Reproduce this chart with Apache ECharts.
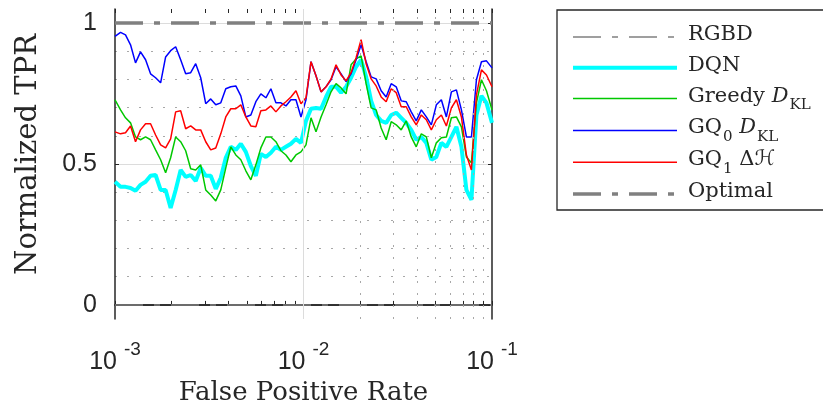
<!DOCTYPE html>
<html>
<head>
<meta charset="utf-8">
<script src="https://cdn.jsdelivr.net/npm/echarts@6/dist/echarts.min.js"></script>
<style>
  html, body { margin: 0; padding: 0; background: #fff; }
  #chart { width: 823px; height: 412px; }
</style>
</head>
<body>
<div id="chart"></div>
<script>
// x positions (false positive rate), shared by all four curves
const fpr = [
  0.001, 0.001070, 0.001137, 0.001209, 0.001285, 0.001366, 0.001453, 0.001544, 0.001642, 0.001746,
  0.001856, 0.001973, 0.002098, 0.002230, 0.002371, 0.002521, 0.002680, 0.002849, 0.003029, 0.003220,
  0.003424, 0.003640, 0.003870, 0.004114, 0.004374, 0.004650, 0.004944, 0.005256, 0.005588, 0.005940,
  0.006316, 0.006714, 0.007138, 0.007589, 0.008068, 0.008578, 0.009119, 0.009695, 0.01031, 0.01096,
  0.01165, 0.01239, 0.01317, 0.01400, 0.01488, 0.01582, 0.01682, 0.01788, 0.01901, 0.02021,
  0.02149, 0.02285, 0.02429, 0.02582, 0.02745, 0.02919, 0.03103, 0.03299, 0.03507, 0.03728,
  0.03964, 0.04217, 0.04483, 0.04766, 0.05067, 0.05387, 0.05727, 0.06089, 0.06473, 0.06882,
  0.07316, 0.07778, 0.08269, 0.08791, 0.09346, 0.1
];
const dqn = [
  .437, .419, .419, .415, .405, .426, .437, .458, .461, .408,
  .408, .344, .408, .479, .454, .461, .440, .486, .458, .458,
  .412, .451, .522, .561, .550, .572, .543, .493, .458, .536,
  .525, .540, .561, .550, .561, .572, .589, .575, .653, .696,
  .699, .696, .738, .774, .774, .753, .774, .806, .845, .870,
  .809, .724, .674, .653, .646, .674, .682, .664, .646, .621,
  .586, .596, .575, .515, .525, .575, .561, .596, .632, .561,
  .408, .373, .674, .742, .717, .646
];
const greedyKL = [
  .728, .692, .664, .646, .596, .586, .596, .586, .550, .515,
  .469, .522, .596, .579, .547, .483, .479, .497, .408, .390,
  .369, .408, .486, .561, .532, .515, .476, .444, .497, .557,
  .596, .596, .579, .547, .532, .508, .532, .543, .568, .664,
  .614, .667, .710, .756, .785, .770, .749, .852, .873, .884,
  .785, .699, .692, .628, .586, .650, .639, .621, .653, .596,
  .561, .607, .596, .522, .575, .593, .596, .664, .667, .632,
  .525, .504, .717, .799, .760, .692
];
const gq0KL = [
  .953, .967, .958, .923, .859, .898, .870, .820, .806, .788,
  .880, .902, .916, .870, .820, .824, .856, .806, .714, .731,
  .710, .717, .767, .774, .777, .742, .667, .674, .721, .749,
  .735, .767, .717, .717, .706, .728, .728, .667, .728, .863,
  .813, .756, .774, .799, .845, .820, .792, .820, .870, .923,
  .863, .809, .802, .760, .738, .785, .774, .724, .721, .685,
  .653, .692, .667, .639, .710, .728, .667, .756, .763, .692,
  .596, .596, .799, .863, .866, .841
];
const gq1H = [
  .614, .607, .611, .635, .579, .621, .643, .643, .603, .568,
  .557, .589, .685, .689, .625, .635, .621, .621, .579, .550,
  .557, .607, .667, .696, .696, .710, .667, .635, .632, .689,
  .692, .706, .685, .706, .721, .738, .760, .714, .735, .863,
  .813, .756, .774, .802, .852, .816, .795, .824, .877, .941,
  .856, .802, .777, .738, .721, .767, .753, .703, .703, .667,
  .639, .674, .657, .621, .657, .674, .635, .699, .728, .667,
  .532, .479, .745, .834, .816, .774
];
// reference lines
const refX = [0.001, 0.1];
const rgbd = [0, 0];
const optimal = [1, 1];

// ticks and grid
const xTickValues = [0.001, 0.01, 0.1];
const xTickExp = ['-3', '-2', '-1'];
const xAllTicks = [0.001, 0.002, 0.003, 0.004, 0.005, 0.006, 0.007, 0.008, 0.009,
                   0.01, 0.02, 0.03, 0.04, 0.05, 0.06, 0.07, 0.08, 0.09, 0.1];
const yTickValues = [0, 0.5, 1];
const yTickLabels = ['0', '0.5', '1'];
const xMinorGrid = [0.002, 0.003, 0.004, 0.005, 0.006, 0.007, 0.008, 0.009,
                    0.02, 0.03, 0.04, 0.05, 0.06, 0.07, 0.08, 0.09];
const xMajorGrid = [0.01];
const yMinorGrid = [0.1, 0.2, 0.3, 0.4, 0.6, 0.7, 0.8, 0.9];

const seriesNames = ['RGBD', 'DQN', 'Greedy', 'GQ0', 'GQ1', 'Optimal'];
const legendLabels = [
  '{t|RGBD}',
  '{t|DQN}',
  '{t|Greedy }{i|D}{sub|KL}',
  '{t|GQ}{sub|0}{t| }{i|D}{sub|KL}',
  '{t|GQ}{sub|1}{t| Δ}{cal|ℋ}',
  '{t|Optimal}'
];

const pair = (xs, ys) => xs.map((x, i) => [x, ys[i]]);

const ink = '#262626';
const serif = 'DejaVu Serif';
const sans = 'Liberation Sans';
const dashDot = [28, 11, 6, 11];

const chart = echarts.init(document.getElementById('chart'), null, { renderer: 'canvas' });

// log axes carry the data; the decade exponent axes only place the tick marks
const logX = {
  type: 'log', logBase: 10, min: 0.001, max: 0.1,
  axisLine: { show: true, lineStyle: { color: ink, width: 1.5 } },
  axisTick: { show: false },
  splitLine: { show: false }
};
const tickX = {
  type: 'value', min: -3, max: -1,
  axisLine: { show: false },
  axisTick: { show: true, inside: true, length: 4, customValues: xAllTicks.map(Math.log10), lineStyle: { color: ink, width: 1 } },
  axisLabel: { show: false },
  splitLine: { show: false }
};

const lineSeries = (name, ys, color, width) => ({
  name: name, type: 'line', data: pair(fpr, ys),
  showSymbol: false, animation: false,
  lineStyle: { color: color, width: width },
  itemStyle: { color: color }
});

const option = {
  animation: false,
  backgroundColor: '#fff',
  grid: { left: 115, right: 331, top: 9, bottom: 93, outerBoundsMode: 'none' },
  xAxis: [
    Object.assign({}, logX, {
      position: 'bottom',
      axisLabel: {
        show: true, margin: 21, showMinLabel: true, showMaxLabel: true,
        formatter: function (value) {
          const i = xTickValues.findIndex(t => Math.abs(Math.log10(t) - Math.log10(value)) < 1e-6);
          return i < 0 ? '' : '{b|10}{s|' + xTickExp[i] + '}';
        },
        rich: {
          b: { fontFamily: sans, fontSize: 25, color: ink, lineHeight: 26, padding: [10, 7, 0, 0], verticalAlign: 'top' },
          s: { fontFamily: sans, fontSize: 19, color: ink, lineHeight: 26, verticalAlign: 'top' }
        }
      },
      name: 'False Positive Rate', nameLocation: 'middle', nameGap: 59,
      nameTextStyle: { fontFamily: serif, fontSize: 26, color: ink }
    }),
    Object.assign({}, logX, { position: 'top', axisLabel: { show: false } }),
    Object.assign({}, tickX, { position: 'bottom' }),
    Object.assign({}, tickX, { position: 'top' })
  ],
  yAxis: [
    {
      type: 'value', min: -0.05, max: 1.05, position: 'left',
      axisLine: { show: true, lineStyle: { color: ink, width: 1.5 } },
      axisTick: { show: true, inside: true, length: 4, customValues: yTickValues, lineStyle: { color: ink } },
      axisLabel: {
        show: true, margin: 18, customValues: yTickValues,
        formatter: v => yTickLabels[yTickValues.indexOf(v)],
        fontFamily: sans, fontSize: 25, color: ink
      },
      splitLine: { show: true, lineStyle: { color: '#dcdcdc', width: 1, type: 'solid' } },
      name: 'Normalized TPR', nameLocation: 'middle', nameGap: 72,
      nameTextStyle: { fontFamily: serif, fontSize: 29, color: ink, padding: [0, 0, 0, 19] }
    },
    {
      type: 'value', min: -0.05, max: 1.05, position: 'right',
      axisLine: { show: true, lineStyle: { color: ink, width: 1.5 } },
      axisTick: { show: true, inside: true, length: 4, customValues: yTickValues, lineStyle: { color: ink } },
      axisLabel: { show: false },
      splitLine: { show: false }
    },
    {
      type: 'value', min: -0.05, max: 1.05, position: 'left',
      axisLine: { show: false },
      axisTick: { show: false, customValues: yMinorGrid },
      axisLabel: { show: false },
      splitLine: { show: true, lineStyle: { color: '#a8a8a8', width: 1, type: [2, 10] } }
    }
  ],
  legend: {
    orient: 'vertical', left: 557, top: 10,
    padding: [14, 110, 3, 14],
    itemWidth: 104, itemHeight: 30, itemGap: 4.8,
    borderColor: ink, borderWidth: 1.3, backgroundColor: '#fff',
    selectedMode: false,
    data: seriesNames.map((n, i) => ({
      name: n,
      itemStyle: { opacity: 0, borderWidth: 0 },
      lineStyle: { width: [1.5, 4, 1.5, 1.5, 1.5, 3.5][i] }
    })),
    formatter: name => legendLabels[seriesNames.indexOf(name)],
    textStyle: {
      color: ink, padding: [0, 0, 0, 6],
      rich: {
        t: { fontFamily: serif, fontSize: 21, color: ink, lineHeight: 26, verticalAlign: 'top' },
        i: { fontFamily: serif, fontStyle: 'italic', fontSize: 21, color: ink, lineHeight: 26, verticalAlign: 'top' },
        cal: { fontFamily: 'DejaVu Sans', fontStyle: 'italic', fontSize: 21, color: ink, lineHeight: 26, verticalAlign: 'top' },
        sub: { fontFamily: serif, fontSize: 15, color: ink, lineHeight: 14, padding: [12, 0, 0, 1], verticalAlign: 'top' }
      }
    }
  },
  series: [
    {
      name: 'RGBD', type: 'line', data: pair(refX, rgbd),
      showSymbol: false,
      lineStyle: { color: '#808080', width: 1.5, type: dashDot },
      itemStyle: { color: '#808080' },
      markLine: {
        silent: true, symbol: ['none', 'none'], label: { show: false }, animation: false,
        data: xMinorGrid.map(v => ({ xAxis: v, lineStyle: { color: '#a8a8a8', width: 1, type: [2, 10] } }))
          .concat(xMajorGrid.map(v => ({ xAxis: v, lineStyle: { color: '#dcdcdc', width: 1, type: 'solid' } })))
      }
    },
    lineSeries('DQN', dqn, '#00ffff', 4),
    lineSeries('Greedy', greedyKL, '#00c800', 1.5),
    lineSeries('GQ0', gq0KL, '#0000ff', 1.5),
    lineSeries('GQ1', gq1H, '#ff0000', 1.5),
    {
      name: 'Optimal', type: 'line', data: pair(refX, optimal),
      showSymbol: false,
      lineStyle: { color: '#808080', width: 3.5, type: dashDot },
      itemStyle: { color: '#808080' }
    }
  ]
};

chart.setOption(option);
</script>
</body>
</html>
